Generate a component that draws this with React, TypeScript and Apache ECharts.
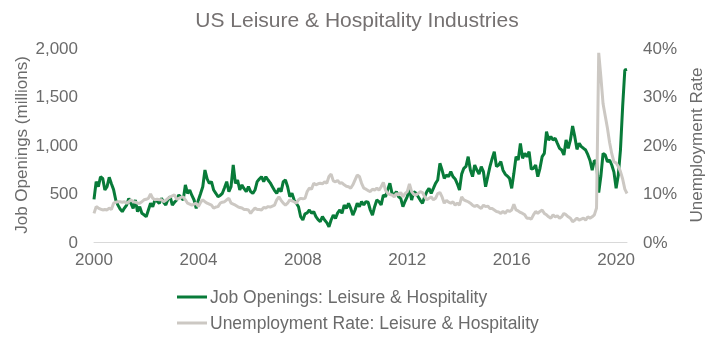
import React, { useEffect, useRef } from "react";
import * as echarts from "echarts";

// Monthly data, Dec 2000 .. May 2021
const startYear = 2000;
const startMonth = 12;

const jobOpenings: number[] = [
  440, 622, 570, 673, 656, 536, 570, 667, 600, 540,
  433, 380, 340, 313, 350, 381, 450, 399, 347, 433,
  313, 364, 296, 280, 261, 330, 399, 364, 433, 420,
  399, 450, 410, 381, 440, 467, 381, 410, 433, 485,
  460, 433, 588, 502, 536, 480, 433, 347, 433, 500,
  570, 742, 650, 605, 622, 536, 502, 467, 480, 502,
  560, 622, 519, 570, 794, 605, 639, 536, 588, 550,
  519, 570, 520, 502, 536, 622, 650, 673, 622, 673,
  639, 610, 570, 530, 502, 553, 519, 622, 639, 570,
  467, 502, 433, 399, 364, 260, 227, 290, 300, 330,
  296, 313, 261, 230, 210, 261, 227, 200, 158, 227,
  278, 244, 300, 330, 296, 381, 347, 399, 347, 278,
  330, 399, 364, 416, 381, 416, 410, 330, 278, 364,
  433, 416, 381, 485, 467, 540, 605, 502, 485, 519,
  467, 450, 364, 420, 467, 553, 433, 519, 502, 467,
  430, 399, 467, 519, 553, 502, 553, 605, 639, 811,
  742, 656, 690, 674, 725, 674, 650, 600, 536, 700,
  760, 780, 880, 742, 674, 794, 742, 700, 777, 725,
  570, 674, 777, 860, 931, 777, 794, 828, 740, 700,
  680, 656, 553, 708, 880, 845, 1017, 863, 914, 880,
  931, 750, 760, 794, 674, 760, 880, 914, 1137, 1050,
  1086, 1052, 1069, 1017, 966, 948, 897, 1052, 966, 1052,
  1196, 1086, 955, 1017, 983, 966, 948, 900, 840, 740,
  840, 830, 510, 680, 914, 897, 828, 845, 794, 720,
  553, 690, 950, 1395, 1773, 1780,
];

const unemploymentRate: number[] = [
  5.9, 7.3, 7.0, 6.8, 6.6, 6.7, 6.6, 7.0, 6.7, 8.0,
  8.2, 8.3, 8.3, 8.2, 8.3, 8.0, 8.3, 8.7, 8.3, 8.2,
  8.0, 8.0, 8.3, 8.7, 8.8, 9.0, 9.9, 9.0, 8.7, 8.8,
  8.7, 8.7, 8.3, 8.6, 9.0, 9.3, 9.5, 9.7, 8.8, 9.0,
  9.2, 9.3, 8.7, 8.0, 7.8, 7.6, 7.8, 8.0, 7.3, 8.2,
  8.7, 8.3, 8.0, 7.8, 7.6, 7.0, 7.2, 7.3, 8.0, 8.2,
  8.3, 8.7, 9.0, 8.0, 7.8, 7.6, 7.3, 7.1, 7.0, 6.7,
  6.7, 6.6, 5.9, 6.5, 7.0, 6.7, 6.7, 6.6, 7.1, 7.0,
  7.3, 7.2, 7.4, 7.6, 8.7, 9.3, 8.6, 8.0, 7.6, 8.0,
  8.7, 8.5, 8.3, 8.0, 8.7, 9.0, 8.9, 9.0, 10.4, 11.1,
  10.9, 12.1, 11.8, 12.0, 12.1, 12.0, 12.4, 12.1, 13.5, 14.0,
  12.6, 12.4, 12.7, 12.1, 12.2, 11.8, 11.5, 11.4, 11.1, 11.8,
  12.8, 13.8, 13.5, 12.1, 11.1, 10.9, 10.6, 10.4, 10.9, 10.7,
  11.1, 10.7, 11.4, 12.3, 10.7, 10.0, 9.8, 9.7, 9.3, 10.0,
  9.7, 10.2, 9.3, 10.0, 10.4, 12.0, 10.4, 9.8, 9.7, 10.0,
  10.4, 10.2, 9.3, 8.7, 9.0, 9.3, 8.7, 9.0, 10.0, 10.2,
  9.3, 8.0, 8.6, 8.2, 8.0, 8.3, 7.6, 8.0, 7.6, 9.3,
  8.7, 8.5, 8.3, 8.0, 7.6, 7.3, 7.6, 7.2, 6.9, 7.6,
  7.3, 7.4, 6.9, 6.9, 6.6, 6.3, 6.2, 5.9, 6.3, 5.9,
  6.5, 6.3, 6.6, 7.8, 6.6, 6.4, 6.1, 5.9, 5.6, 4.9,
  4.9, 4.7, 5.6, 6.3, 5.9, 6.3, 6.6, 5.9, 5.6, 5.2,
  4.9, 5.6, 5.2, 5.4, 4.9, 5.2, 5.9, 5.6, 5.2, 4.9,
  4.2, 4.5, 4.9, 4.5, 4.7, 4.9, 4.5, 5.2, 4.9, 5.2,
  5.6, 7.0, 39.0, 34.0, 28.5, 26.0, 23.5, 20.5, 18.2, 16.5,
  16.3, 15.6, 14.5, 13.0, 10.9, 10.0,
];

const months: string[] = jobOpenings.map((_, i) => {
  const total = startYear * 12 + (startMonth - 1) + i;
  const y = Math.floor(total / 12);
  const m = (total % 12) + 1;
  return `${y}-${m < 10 ? "0" + m : m}`;
});

const labelStep = 48; // one label every 4 years

const TEXT = "#6b6b6b";
const FONT = "Liberation Sans, Arial, sans-serif";

export default function App() {
  const ref = useRef<HTMLDivElement>(null);
  useEffect(() => {
    if (!ref.current) return;
    const chart = echarts.init(ref.current, undefined, { renderer: "svg" });
    chart.setOption({
      animation: false,
      textStyle: { fontFamily: FONT },
      title: {
        text: "US Leisure & Hospitality Industries",
        left: "center",
        top: 4,
        textStyle: { fontSize: 21, fontWeight: "normal", color: "#757171", fontFamily: FONT },
      },
      grid: { left: 94, right: 87, top: 48, bottom: 97, containLabel: false },
      legend: {
        orient: "vertical",
        left: 172,
        top: 283,
        itemGap: 8,
        itemWidth: 30,
        itemHeight: 3,
        icon: "rect",
        textStyle: { fontSize: 17.5, color: TEXT, fontFamily: FONT, padding: [0, 0, 0, -2] },
        data: ["Job Openings: Leisure & Hospitality", "Unemployment Rate: Leisure & Hospitality"],
      },
      xAxis: {
        type: "category",
        data: months,
        boundaryGap: false,
        axisLine: { show: true, lineStyle: { color: "#d9d9d9", width: 1 } },
        axisTick: { show: false },
        axisLabel: {
          interval: (idx: number) => idx % labelStep === 0,
          formatter: (v: string) => v.slice(0, 4),
          fontSize: 17,
          color: TEXT,
          margin: 9,
          fontFamily: FONT,
        },
        splitLine: { show: false },
      },
      yAxis: [
        {
          type: "value",
          min: 0,
          max: 2000,
          interval: 500,
          name: "Job Openings (millions)",
          nameLocation: "middle",
          nameGap: 64,
          nameMoveOverlap: false,
          nameTextStyle: { fontSize: 17, color: TEXT, fontFamily: FONT },
          axisLine: { show: false },
          axisTick: { show: false },
          splitLine: { show: false },
          axisLabel: {
            fontSize: 17,
            color: TEXT,
            margin: 16,
            fontFamily: FONT,
            formatter: (v: number) => v.toLocaleString("en-US"),
          },
        },
        {
          type: "value",
          min: 0,
          max: 40,
          interval: 10,
          name: "Unemployment Rate",
          nameLocation: "middle",
          nameGap: 61,
          nameMoveOverlap: false,
          nameTextStyle: { fontSize: 17, color: TEXT, fontFamily: FONT },
          axisLine: { show: false },
          axisTick: { show: false },
          splitLine: { show: false },
          axisLabel: {
            fontSize: 17,
            color: TEXT,
            margin: 16,
            fontFamily: FONT,
            formatter: "{value}%",
          },
        },
      ],
      series: [
        {
          name: "Job Openings: Leisure & Hospitality",
          type: "line",
          yAxisIndex: 0,
          data: jobOpenings,
          showSymbol: false,
          symbol: "none",
          lineStyle: { color: "#087B39", width: 3 },
          itemStyle: { color: "#087B39" },
          z: 2,
        },
        {
          name: "Unemployment Rate: Leisure & Hospitality",
          type: "line",
          yAxisIndex: 1,
          data: unemploymentRate,
          showSymbol: false,
          symbol: "none",
          lineStyle: { color: "#CCC8C3", width: 3 },
          itemStyle: { color: "#CCC8C3" },
          z: 3,
        },
      ],
    });
    return () => chart.dispose();
  }, []);
  return (
    <div
      ref={ref}
      style={{ position: "fixed", left: 0, top: 0, width: 714, height: 339 }}
    />
  );
}
